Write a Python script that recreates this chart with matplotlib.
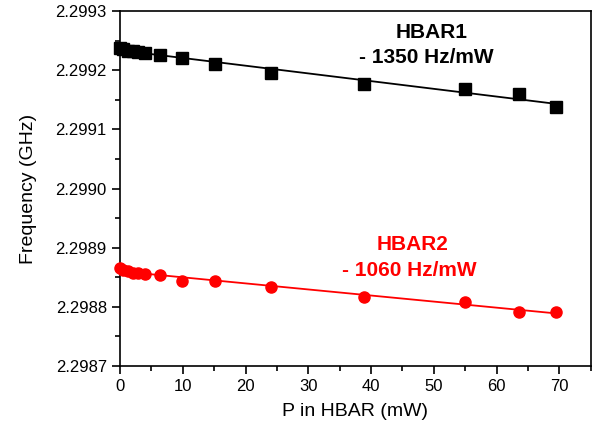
import numpy as np
import matplotlib
matplotlib.use("Agg")
import matplotlib.pyplot as plt
from matplotlib.ticker import MultipleLocator, FormatStrFormatter

plt.rcParams["font.family"] = ["Liberation Sans", "DejaVu Sans"]

# Data
power = [0.0, 0.5, 1.2, 2.0, 2.8, 4.0, 6.3, 9.9, 15.2, 24.0, 38.8, 54.9, 63.5, 69.4]
freq_hbar1 = [2.299238, 2.299235, 2.299233, 2.299232, 2.299231, 2.299229, 2.299225,
              2.299220, 2.299210, 2.299196, 2.299176, 2.299168, 2.299159, 2.299138]
freq_hbar2 = [2.298866, 2.298862, 2.298860, 2.298858, 2.298857, 2.298855, 2.298853,
              2.298844, 2.298844, 2.298834, 2.298817, 2.298809, 2.298791, 2.298792]

fig = plt.figure(figsize=(5.92, 4.24), dpi=100)
ax = fig.add_axes([0.2027, 0.1368, 0.7953, 0.8372])

# Linear fits
xfit = np.array([0, 70])
p1 = np.polyfit(power, freq_hbar1, 1)
p2 = np.polyfit(power, freq_hbar2, 1)
ax.plot(xfit, np.polyval(p1, xfit), color="black", lw=1.3)
ax.plot(xfit, np.polyval(p2, xfit), color="red", lw=1.3)

ax.plot(power, freq_hbar1, "s", color="black", ms=8, clip_on=False, zorder=3)
ax.plot(power, freq_hbar2, "o", color="red", ms=8, clip_on=False, zorder=3)

ax.set_xlim(0, 75)
ax.set_ylim(2.2987, 2.2993)
ax.xaxis.set_major_locator(MultipleLocator(10))
ax.xaxis.set_minor_locator(MultipleLocator(5))
ax.yaxis.set_major_locator(MultipleLocator(0.0001))
ax.yaxis.set_minor_locator(MultipleLocator(0.00005))
ax.yaxis.set_major_formatter(FormatStrFormatter("%.4f"))

ax.tick_params(which="both", direction="out", top=False, right=False, labelsize=12, width=1.2)
ax.tick_params(which="major", length=6)
ax.tick_params(which="minor", length=3.5)
for s in ax.spines.values():
    s.set_linewidth(1.2)

ax.set_xlabel("P in HBAR (mW)", fontsize=14, labelpad=6)
ax.set_ylabel("Frequency (GHz)", fontsize=14, labelpad=13)

ax.text(0.662, 0.939, "HBAR1", transform=ax.transAxes, ha="center", va="center",
        fontsize=15, fontweight="bold", color="black")
ax.text(0.650, 0.869, "- 1350 Hz/mW", transform=ax.transAxes, ha="center", va="center",
        fontsize=15, fontweight="bold", color="black")
ax.text(0.622, 0.342, "HBAR2", transform=ax.transAxes, ha="center", va="center",
        fontsize=15, fontweight="bold", color="red")
ax.text(0.615, 0.269, "- 1060 Hz/mW", transform=ax.transAxes, ha="center", va="center",
        fontsize=15, fontweight="bold", color="red")

fig.savefig("out.png", dpi=100)
